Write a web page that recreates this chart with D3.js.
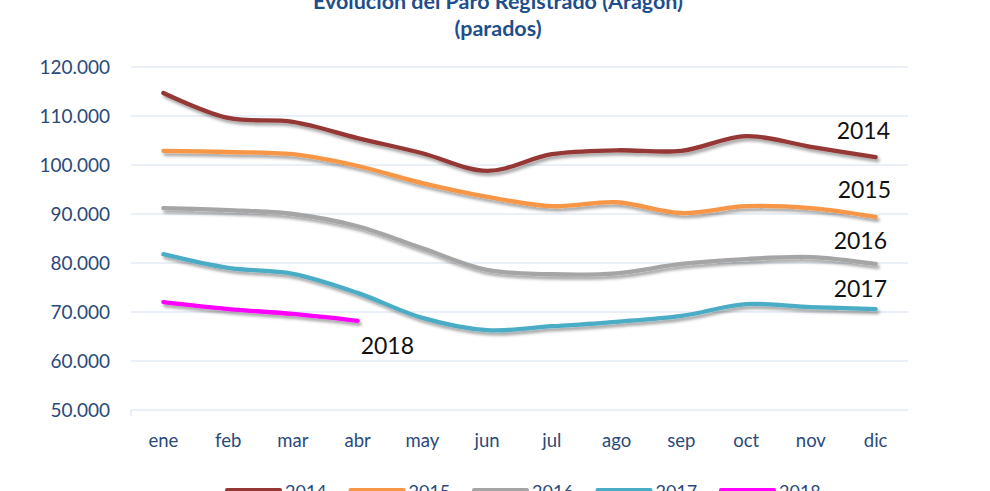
<!DOCTYPE html>
<html><head><meta charset="utf-8">
<script src="https://cdn.jsdelivr.net/npm/d3@7"></script>
<style>body{margin:0;background:#fff;}svg{display:block;}</style>
</head><body>
<svg id="c" width="990" height="491"></svg>
<script>
const months = ["ene","feb","mar","abr","may","jun","jul","ago","sep","oct","nov","dic"];
const years = ["2014","2015","2016","2017","2018"];
const v2014 = [114700,109600,108800,105500,102400,98800,102200,103000,102900,105900,103700,101600];
const v2015 = [102900,102650,102200,99800,96300,93500,91600,92400,90200,91600,91200,89400];
const v2016 = [91200,90800,90000,87500,83000,78600,77700,77900,79800,80800,81200,79800];
const v2017 = [81800,79000,77800,73900,68800,66300,67100,68000,69200,71600,71000,70600];
const v2018 = [72000,70600,69600,68200];
const yTicks = [50000,60000,70000,80000,90000,100000,110000,120000];
const colors = ["#953735","#f79646","#a5a5a5","#4bacc6","#ff00ff"];
const seriesVals = [v2014,v2015,v2016,v2017,v2018];

const svg = d3.select("#c");
const font = "Lato, 'Open Sans', sans-serif";
const pLeft = 131, pRight = 908, pTop = 67, pBottom = 410;

const x = d3.scaleBand().domain(months).range([pLeft, pRight]);
const y = d3.scaleLinear().domain([50000,120000]).range([pBottom, pTop]);
const fmt = v => d3.format(",.0f")(v).replace(/,/g, ".");

const defs = svg.append("defs");
const f = defs.append("filter").attr("id","sh").attr("x","-10%").attr("y","-30%").attr("width","120%").attr("height","160%");
f.append("feDropShadow").attr("dx",2).attr("dy",3).attr("stdDeviation",1.8).attr("flood-color","#000").attr("flood-opacity",0.35);

// title
svg.append("text").attr("x",498).attr("y",9).attr("text-anchor","middle")
  .attr("font-family",font).attr("font-weight","bold").attr("font-size",21.5).attr("fill","#1f4e8c")
  .text("Evolución del Paro Registrado (Aragón)");
svg.append("text").attr("x",498).attr("y",36).attr("text-anchor","middle")
  .attr("font-family",font).attr("font-weight","bold").attr("font-size",21.5).attr("fill","#1f4e8c")
  .text("(parados)");

// gridlines
svg.append("g").selectAll("line").data(yTicks).join("line")
  .attr("x1",pLeft).attr("x2",pRight).attr("y1",d=>y(d)).attr("y2",d=>y(d))
  .attr("stroke","#d6e2f0").attr("stroke-width",1.2);
svg.append("line").attr("x1",pLeft).attr("x2",pLeft).attr("y1",pBottom).attr("y2",pBottom+6).attr("stroke","#d6e2f0");

// y labels
svg.append("g").selectAll("text").data(yTicks).join("text")
  .attr("x",110).attr("y",d=>y(d)+6.5).attr("text-anchor","end")
  .attr("font-family",font).attr("font-size",19).attr("fill","#2a4a7b").text(fmt);

// x labels
svg.append("g").selectAll("text").data(months).join("text")
  .attr("x",d=>x(d)+x.bandwidth()/2).attr("y",447).attr("text-anchor","middle")
  .attr("font-family",font).attr("font-size",18.5).attr("fill","#2a4a7b").text(d=>d);

// lines
const line = d3.line().x((d,i)=>x(months[i])+x.bandwidth()/2).y(d=>y(d)).curve(d3.curveCatmullRom.alpha(0.5));
svg.append("g").selectAll("path").data(seriesVals).join("path")
  .attr("d",d=>line(d)).attr("fill","none").attr("stroke",(d,i)=>colors[i])
  .attr("stroke-width",4.3).attr("stroke-linecap","round").attr("filter","url(#sh)");

// series labels
const labelPos = [
  {m:"dic", dx:-39, v:v2014[11], dy:-18},
  {m:"dic", dx:-38, v:v2015[11], dy:-19},
  {m:"dic", dx:-42, v:v2016[11], dy:-15},
  {m:"dic", dx:-42, v:v2017[11], dy:-12},
  {m:"abr", dx:3, v:v2018[3], dy:33}
];
svg.append("g").selectAll("text").data(labelPos).join("text")
  .attr("x",d=>x(d.m)+x.bandwidth()/2+d.dx).attr("y",d=>y(d.v)+d.dy)
  .attr("font-family",font).attr("font-size",23).attr("fill","#111")
  .text((d,i)=>years[i]);

// legend
const lg = svg.append("g").selectAll("g").data(years).join("g")
  .attr("transform",(d,i)=>`translate(${227+i*123.5},0)`);
lg.append("line").attr("x1",0).attr("x2",53).attr("y1",490).attr("y2",490)
  .attr("stroke",(d,i)=>colors[i]).attr("stroke-width",4).attr("stroke-linecap","round");
lg.append("text").attr("x",58).attr("y",498).attr("font-family",font).attr("font-size",18)
  .attr("fill","#2a4a7b").text(d=>d);
</script>
</body></html>
